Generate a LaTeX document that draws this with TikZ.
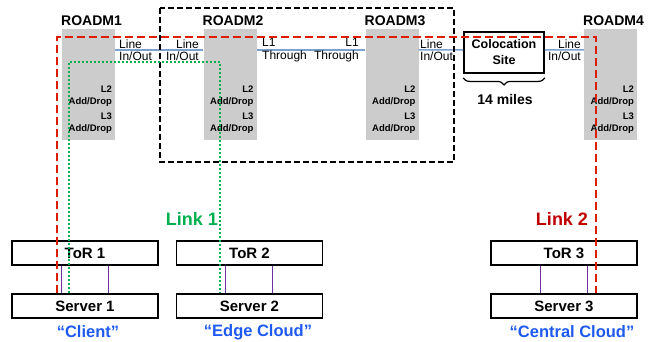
\documentclass[tikz,border=0pt]{standalone}
\usepackage{fontspec}
\setmainfont{Liberation Sans}
\usetikzlibrary{decorations.pathreplacing}

\definecolor{roadmgray}{RGB}{204,204,204}
\definecolor{fiberblue}{RGB}{125,160,205}
\definecolor{linkred}{RGB}{220,30,0}
\definecolor{tagred}{RGB}{192,0,0}
\definecolor{linkgreen}{RGB}{0,176,80}
\definecolor{tagblue}{RGB}{30,90,240}
\definecolor{cablepurple}{RGB}{112,48,160}

\tikzset{
  roadm/.style={rectangle,fill=roadmgray,minimum width=53pt,minimum height=111pt,inner sep=0pt},
  rname/.style={inner sep=0pt,font=\bfseries\fontsize{14}{16}\selectfont},
  layer/.style={align=right,anchor=east,inner sep=0pt,font=\bfseries\fontsize{9.5}{11.5}\selectfont},
  portl/.style={align=left,anchor=west,inner sep=0pt,font=\fontsize{12}{12.5}\selectfont},
  portr/.style={align=right,anchor=east,inner sep=0pt,font=\fontsize{12}{12.5}\selectfont},
  fiber/.style={draw=fiberblue,line width=1.5pt},
  rack/.style={draw,line width=1.3pt,minimum width=146pt,minimum height=24pt,inner sep=0pt,font=\bfseries\fontsize{15}{17}\selectfont},
  site/.style={draw,line width=1.8pt,minimum width=80pt,minimum height=41pt,inner sep=0pt,align=center,font=\bfseries\fontsize{12.5}{16}\selectfont},
  tag/.style={inner sep=0pt,text=tagblue,font=\bfseries\fontsize{16.5}{18}\selectfont},
  linktag/.style={inner sep=0pt,font=\bfseries\fontsize{18}{20}\selectfont},
  link1/.style={draw=linkgreen,line width=2pt,dash pattern=on 2pt off 2pt},
  link2/.style={draw=linkred,line width=2pt,dash pattern=on 8pt off 4pt},
  metro/.style={draw,line width=1.5pt,dash pattern=on 6pt off 3pt},
  cable/.style={draw=cablepurple,line width=1.2pt}
}

\begin{document}
\begin{tikzpicture}[x=1pt, y=-1pt]
    \useasboundingbox (0,0) rectangle (656,341);

    \foreach \i/\x in {1/88.5,2/230,3/392,4/610.5} {
        \node[roadm] (roadm\i) at (\x,84.5) {};
        \node[rname] (name\i) at (\x+3,21) {ROADM\i};
        \node[layer] (l2\i) at ([shift={(-3pt,-11.5pt)}]roadm\i.east) {L2\\Add/Drop};
        \node[layer] (l3\i) at ([shift={(-3pt,-38.5pt)}]roadm\i.east) {L3\\Add/Drop};
    }

    \node[site] (coloc) at (504,52.5) {Colocation\\Site};
    \draw[line width=1.2pt, decorate, decoration={brace, mirror, amplitude=7pt}]
        ([yshift=-4pt]coloc.south west) -- ([yshift=-4pt]coloc.south east);
    \node[rname] (dist) at (505,99) {14 miles};

    \draw[fiber] ([yshift=-21pt]roadm1.north east) -- ([yshift=-21pt]roadm2.north west);
    \draw[fiber] ([yshift=-21pt]roadm2.north east) -- ([yshift=-21pt]roadm3.north west);
    \draw[fiber] ([yshift=-21pt]roadm3.north east) -- ([yshift=2.5pt]coloc.west);
    \draw[fiber] ([yshift=2.5pt]coloc.east) -- ([yshift=-21pt]roadm4.north west);

    \node[portl] (p1) at (119,50) {Line\\In/Out};
    \node[portr] (p2) at (199,50) {Line\\In/Out};
    \node[portl] (p3) at (262,50) {L1\\Through};
    \node[portr] (p4) at (359,50) {L1\\Through};
    \node[portl] (p5) at (420,50) {Line\\In/Out};
    \node[portr] (p6) at (581,50) {Line\\In/Out};

    \draw[metro] (160,8) rectangle (454,162);

    \node[rack] (tor1) at (85,253) {ToR 1};
    \node[rack] (tor2) at (249.5,253) {ToR 2};
    \node[rack] (tor3) at (564,253) {ToR 3};
    \node[rack] (srv1) at (85,306) {Server 1};
    \node[rack] (srv2) at (249.5,306) {Server 2};
    \node[rack] (srv3) at (564,306) {Server 3};

    \foreach \i in {1,2,3} {
        \draw[cable] ([xshift=50pt]tor\i.south west) -- ([xshift=50pt]srv\i.north west);
        \draw[cable] ([xshift=97pt]tor\i.south west) -- ([xshift=97pt]srv\i.north west);
    }

    \node[tag] (client) at (88,332) {“Client”};
    \node[tag] (edge) at (258,332) {“Edge Cloud”};
    \node[tag] (central) at (572,332) {“Central Cloud”};

    \node[linktag, text=linkgreen] (linkA) at (192,219) {Link 1};
    \node[linktag, text=tagred] (linkB) at (562,219) {Link 2};

    \coordinate (gA) at (69,62);
    \coordinate (gB) at (220,62);
    \draw[link1] (srv1.north -| gA) -- (gA) -- (gB) -- (srv2.north -| gB);

    \coordinate (rA) at (57,37);
    \coordinate (rB) at (596,37);
    \draw[link2] (srv1.north -| rA) -- (rA) -- (rB) -- (srv3.north -| rB);
\end{tikzpicture}
\end{document}
